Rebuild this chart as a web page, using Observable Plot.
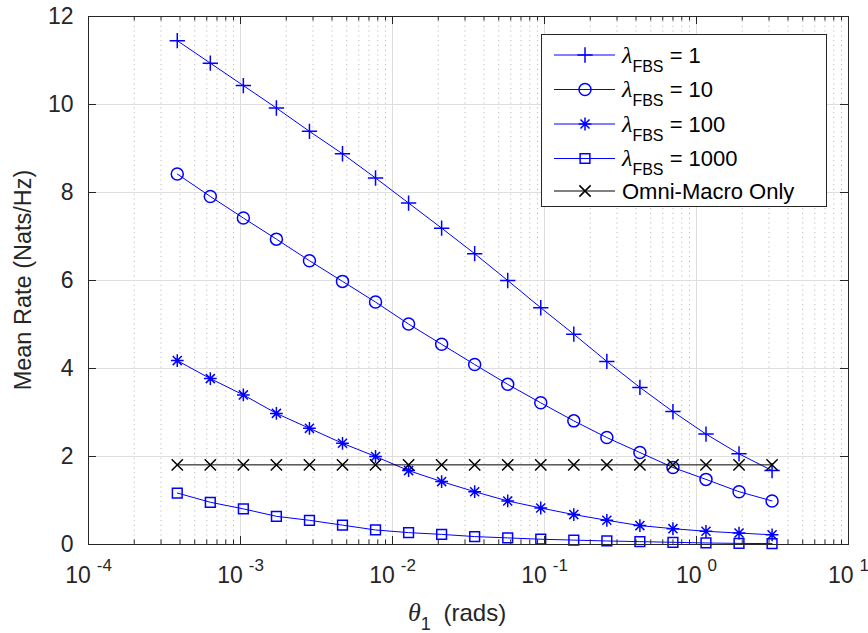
<!DOCTYPE html>
<html><head><meta charset="utf-8">
<script src="https://cdn.jsdelivr.net/npm/d3@7"></script>
<script src="https://cdn.jsdelivr.net/npm/@observablehq/plot@0.6"></script>
<style>html,body{margin:0;padding:0;background:#fff;} svg{display:block}</style>
</head><body><div id="chart"></div>
<script>
// ---- data ----
const theta = [3.837e-4, 6.33e-4, 1.0443e-3, 1.7227e-3, 2.842e-3, 4.688e-3, 7.734e-3, 0.012759, 0.021048, 0.034723, 0.05728, 0.094493, 0.15588, 0.25716, 0.42423, 0.69984, 1.1545, 1.9045, 3.1416];
const rateLambda1    = [11.45, 10.94, 10.43, 9.92, 9.39, 8.88, 8.33, 7.76, 7.19, 6.61, 6.00, 5.38, 4.78, 4.16, 3.57, 3.02, 2.51, 2.06, 1.68];
const rateLambda10   = [8.42, 7.91, 7.42, 6.94, 6.45, 5.98, 5.51, 5.01, 4.55, 4.09, 3.64, 3.22, 2.81, 2.43, 2.09, 1.75, 1.48, 1.20, 0.99];
const rateLambda100  = [4.18, 3.77, 3.40, 2.98, 2.64, 2.30, 2.00, 1.68, 1.43, 1.20, 0.99, 0.83, 0.68, 0.55, 0.43, 0.36, 0.30, 0.26, 0.22];
const rateLambda1000 = [1.17, 0.96, 0.81, 0.64, 0.55, 0.44, 0.33, 0.27, 0.23, 0.18, 0.15, 0.12, 0.10, 0.08, 0.065, 0.05, 0.035, 0.025, 0.02];
const rateMacroOnly  = [1.81, 1.81, 1.81, 1.81, 1.81, 1.81, 1.81, 1.81, 1.81, 1.81, 1.81, 1.81, 1.81, 1.81, 1.81, 1.81, 1.81, 1.81, 1.81];
const lambdaLabels = ["1", "10", "100", "1000"];
const macroLabel = "Omni-Macro Only";
const xTickValues = [1e-4, 1e-3, 1e-2, 1e-1, 1, 10];
const xTickExponents = ["-4", "-3", "-2", "-1", "0", "1"];
const yTickValues = [0, 2, 4, 6, 8, 10, 12];
const xLabelSymbol = "θ", xLabelSub = "1", xLabelRest = " (rads)";
const yLabel = "Mean Rate (Nats/Hz)";

// ---- layout ----
const W = 868, H = 633, mL = 88, mR = 20, mT = 16, mB = 89;
const axisColor = "#262626", blue = "#0000ff", black = "#000000";
const font = "'Liberation Sans', Arial, Helvetica, sans-serif";
const greek = "'Liberation Serif', 'Times New Roman', serif";
const yPerPx = 12 / (H - mT - mB);
const decPerPx = 5 / (W - mL - mR);
const majLen = 8, minLen = 4.5;
const xMinor = [];
for (let d = -4; d < 1; d++) for (let m = 2; m <= 9; m++) xMinor.push(m * Math.pow(10, d));

// MATLAB-style '*' marker: plus and times overlaid (8 arms)
const star8 = {
  draw(context, size) {
    const r = Math.sqrt(size / Math.PI);
    const q = r * Math.SQRT1_2;
    context.moveTo(0, -r); context.lineTo(0, r);
    context.moveTo(-r, 0); context.lineTo(r, 0);
    context.moveTo(-q, -q); context.lineTo(q, q);
    context.moveTo(-q, q); context.lineTo(q, -q);
  }
};

const seriesDefs = [
  {values: rateLambda1, symbol: "plus", r: 5.0, color: blue},
  {values: rateLambda10, symbol: "circle", r: 6, color: blue},
  {values: rateLambda100, symbol: star8, r: 6.4, color: blue},
  {values: rateLambda1000, symbol: "square", r: 5.5, color: blue},
  {values: rateMacroOnly, symbol: "times", r: 5.2, color: black}
];

const marks = [
  Plot.ruleX(xMinor, {stroke: "#bdbdbd", strokeDasharray: "1.2,3.6", strokeWidth: 1}),
  Plot.ruleX(xTickValues.slice(1, -1), {stroke: "#dedede", strokeWidth: 1}),
  Plot.ruleY(yTickValues.slice(1, -1), {stroke: "#dedede", strokeWidth: 1})
];
for (const s of seriesDefs) {
  const rows = theta.map((t, i) => ({theta: t, rate: s.values[i]}));
  marks.push(Plot.line(rows, {x: "theta", y: "rate", stroke: s.color, strokeWidth: 1}));
  marks.push(Plot.dot(rows, {x: "theta", y: "rate", symbol: s.symbol, r: s.r, stroke: s.color, fill: "none", strokeWidth: 1.5}));
}
// inward ticks (box on all sides)
const xr = Math.pow(10, majLen * decPerPx);
marks.push(
  Plot.ruleX(xTickValues, {y1: 0, y2: majLen * yPerPx, stroke: axisColor}),
  Plot.ruleX(xTickValues, {y1: 12, y2: 12 - majLen * yPerPx, stroke: axisColor}),
  Plot.ruleX(xMinor, {y1: 0, y2: minLen * yPerPx, stroke: axisColor}),
  Plot.ruleX(xMinor, {y1: 12, y2: 12 - minLen * yPerPx, stroke: axisColor}),
  Plot.ruleY(yTickValues, {x1: 1e-4, x2: 1e-4 * xr, stroke: axisColor}),
  Plot.ruleY(yTickValues, {x1: 10, x2: 10 / xr, stroke: axisColor}),
  Plot.frame({stroke: axisColor, strokeWidth: 1})
);

const chart = Plot.plot({
  width: W, height: H,
  marginLeft: mL, marginRight: mR, marginTop: mT, marginBottom: mB,
  style: {fontFamily: font, fontSize: "23px", color: axisColor, background: "#fff", overflow: "visible"},
  x: {type: "log", domain: [1e-4, 10], ticks: xTickValues, tickFormat: (d) => "10^" + xTickExponents[xTickValues.indexOf(d)], tickSize: 0, tickPadding: 22, label: null},
  y: {domain: [0, 12], ticks: yTickValues, tickSize: 0, tickPadding: 15, label: null},
  marks
});
document.getElementById("chart").appendChild(chart);

const svg = d3.select(chart);
// superscripts on x tick labels
svg.selectAll('g[aria-label="x-axis tick label"] text').each(function () {
  const t = d3.select(this);
  const [base, exp] = t.text().split("^");
  t.text(null);
  t.append("tspan").text(base);
  t.append("tspan").attr("font-size", "17px").attr("dx", 6).attr("dy", -12).text(exp);
});

// x axis label
const xl = svg.append("text").attr("x", 408).attr("y", 621).attr("text-anchor", "start")
  .attr("font-family", font).attr("font-size", "24px").attr("fill", axisColor);
xl.append("tspan").attr("font-style", "italic").attr("font-family", greek).attr("font-size", "26px").text(xLabelSymbol);
xl.append("tspan").attr("font-size", "18px").attr("dy", 9).text(xLabelSub);
xl.append("tspan").attr("dy", -9).attr("dx", 6).text(xLabelRest);
// y axis label
svg.append("text").attr("transform", `translate(31,${(mT + H - mB) / 2}) rotate(-90)`)
  .attr("text-anchor", "middle").attr("font-family", font).attr("font-size", "23.5px").attr("fill", axisColor).text(yLabel);

// legend
const lg = svg.append("g").attr("font-family", font).attr("font-size", "22px").attr("fill", "#000").attr("text-anchor", "start");
lg.append("rect").attr("x", 541.5).attr("y", 34.5).attr("width", 285).attr("height", 172).attr("fill", "#fff").attr("stroke", axisColor);
const symMap = {plus: d3.symbolPlus, circle: d3.symbolCircle, square: d3.symbolSquare, times: d3.symbolTimes};
const rowY = [55, 89.5, 124, 158.5, 191];
seriesDefs.forEach((s, i) => {
  const y = rowY[i];
  const sym = typeof s.symbol === "string" ? symMap[s.symbol] : s.symbol;
  lg.append("line").attr("x1", 554).attr("x2", 615).attr("y1", y).attr("y2", y).attr("stroke", s.color).attr("stroke-width", 1);
  lg.append("path").attr("transform", `translate(585,${y})`).attr("d", d3.symbol(sym, s.r * s.r * Math.PI)())
    .attr("fill", "none").attr("stroke", s.color).attr("stroke-width", 1.5);
  const t = lg.append("text").attr("x", 622).attr("y", y + 7.5).attr("text-anchor", "start");
  if (i < 4) {
    t.append("tspan").attr("font-family", greek).attr("font-style", "italic").attr("font-size", "24px").text("λ");
    t.append("tspan").attr("font-size", "16px").attr("dy", 9).text("FBS");
    t.append("tspan").attr("dy", -9).text(" = " + lambdaLabels[i]);
  } else {
    t.text(macroLabel);
  }
});
</script>
</body></html>
